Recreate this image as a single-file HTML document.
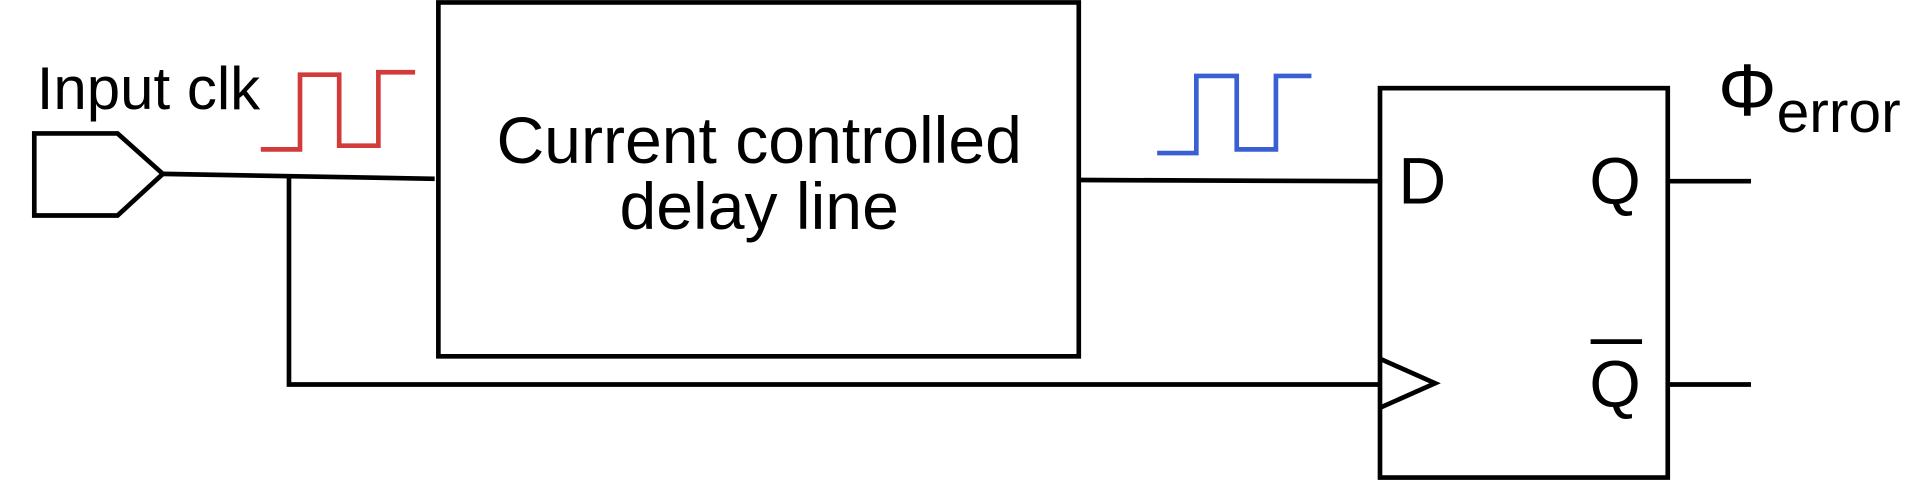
<!DOCTYPE html>
<html><head><style>html,body{margin:0;padding:0;background:#fff;}svg{display:block}</style></head>
<body>
<svg width="1920" height="480" viewBox="0 0 1568 392" preserveAspectRatio="none" xmlns="http://www.w3.org/2000/svg" font-family="Liberation Sans, sans-serif">
<g fill="none" stroke="#000" stroke-width="3.8">
<polygon points="28,109 96,109 133,142 96,176 28,176"/>
<polyline points="133,142 355,146"/>
<polyline points="236,145 236,314 1127,314"/>
<rect x="358" y="2" width="523" height="289"/>
<polyline points="881,147 1127,148"/>
<rect x="1127" y="72" width="235" height="318"/>
<polyline points="1127,293 1172,313 1127,333"/>
<line x1="1362" y1="148" x2="1430" y2="148"/>
<line x1="1362" y1="314" x2="1430" y2="314"/>
<line x1="1299" y1="279" x2="1341" y2="279"/>
</g>
<polyline fill="none" stroke="#d33a3a" stroke-width="3.8" points="213,122 245,122 245,61 277,61 277,119 309,119 309,59 339,59"/>
<polyline fill="none" stroke="#3a5fd3" stroke-width="3.8" points="945,125 977,125 977,62 1010,62 1010,122 1042,122 1042,62 1071,62"/>
<g fill="#000">
<text x="30" y="89" font-size="49">Input clk</text>
<text x="620" y="133" font-size="54" text-anchor="middle">Current controlled</text>
<text x="620" y="187" font-size="54" text-anchor="middle">delay line</text>
<text x="1142" y="166" font-size="54">D</text>
<text x="1298" y="166" font-size="54">Q</text>
<text x="1298" y="332" font-size="54">Q</text>
<text x="1403" y="94" font-size="60">Φ<tspan font-size="48" dy="14">error</tspan></text>
</g>
</svg>
</body></html>
